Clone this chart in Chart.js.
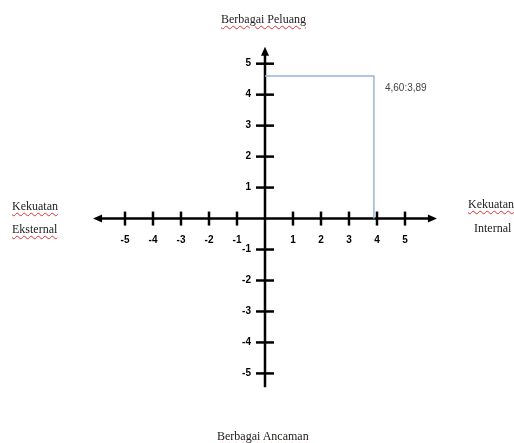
<!DOCTYPE html>
<html>
<head>
<meta charset="utf-8">
<script src="https://cdn.jsdelivr.net/npm/chart.js@4"></script>
<style>
  html, body { margin: 0; padding: 0; background: #fff; overflow: hidden; }
  #wrap { position: relative; width: 514px; height: 443px; }
  canvas { position: absolute; left: 0; top: 0; }
  .lbl { position: absolute; font-family: "Liberation Serif", "Times New Roman", serif; font-size: 12px; color: #222; white-space: nowrap; line-height: 14px; }
  .sq { text-decoration: underline wavy #e03030; text-decoration-thickness: 1px; text-underline-offset: 2px; }
</style>
</head>
<body>
<div id="wrap">
  <canvas id="c" width="514" height="443"></canvas>
  <div class="lbl sq" style="left:221px; top:12px;">Berbagai Peluang</div>
  <div class="lbl sq" style="left:217px; top:429px;">Berbagai Ancaman</div>
  <div class="lbl sq" style="left:12px; top:199px;">Kekuatan</div>
  <div class="lbl sq" style="left:12px; top:222px;">Eksternal</div>
  <div class="lbl sq" style="left:468px; top:197px;">Kekuatan</div>
  <div class="lbl" style="left:474px; top:221px;">Internal</div>
</div>
<script>
// ---- data ----
const xTickValues = [-5, -4, -3, -2, -1, 1, 2, 3, 4, 5];
const xTickLabels = ["-5", "-4", "-3", "-2", "-1", "1", "2", "3", "4", "5"];
const yTickValues = [5, 4, 3, 2, 1, -1, -2, -3, -4, -5];
const yTickLabels = ["5", "4", "3", "2", "1", "-1", "-2", "-3", "-4", "-5"];
const internalScore = 3.89;   // x (Kekuatan Internal)
const externalScore = 4.60;   // y (Berbagai Peluang)
const pointLabel = "4,60:3,89";

const guidePoints = [
  { x: 0, y: externalScore },
  { x: internalScore, y: externalScore },
  { x: internalScore, y: 0 }
];

const axesPlugin = {
  id: 'crossAxes',
  beforeDatasetsDraw(chart) {
    const { ctx, scales: { x, y } } = chart;
    const x0 = x.getPixelForValue(0), y0 = y.getPixelForValue(0);
    ctx.save();
    ctx.strokeStyle = '#000';
    ctx.fillStyle = '#000';
    ctx.lineWidth = 2.5;
    // horizontal axis
    const xl = x.getPixelForValue(-6.14), xr = x.getPixelForValue(6.14);
    ctx.beginPath(); ctx.moveTo(xl + 6, y0); ctx.lineTo(xr - 6, y0); ctx.stroke();
    // vertical axis
    const yt = y.getPixelForValue(5.55), yb = y.getPixelForValue(-5.45);
    ctx.beginPath(); ctx.moveTo(x0, yt + 6); ctx.lineTo(x0, yb); ctx.stroke();
    // arrow heads
    ctx.beginPath(); ctx.moveTo(xl, y0); ctx.lineTo(xl + 9, y0 - 4); ctx.lineTo(xl + 9, y0 + 4); ctx.closePath(); ctx.fill();
    ctx.beginPath(); ctx.moveTo(xr, y0); ctx.lineTo(xr - 9, y0 - 4); ctx.lineTo(xr - 9, y0 + 4); ctx.closePath(); ctx.fill();
    ctx.beginPath(); ctx.moveTo(x0, yt); ctx.lineTo(x0 - 4, yt + 9); ctx.lineTo(x0 + 4, yt + 9); ctx.closePath(); ctx.fill();
    // ticks
    ctx.font = 'bold 10px "Liberation Sans", Arial, sans-serif';
    ctx.textAlign = 'center'; ctx.textBaseline = 'middle';
    xTickValues.forEach((v, i) => {
      const px = x.getPixelForValue(v);
      ctx.beginPath(); ctx.moveTo(px, y0 - 7); ctx.lineTo(px, y0 + 7); ctx.stroke();
      ctx.fillText(xTickLabels[i], px, y0 + 22);
    });
    ctx.textAlign = 'right';
    yTickValues.forEach((v, i) => {
      const py = y.getPixelForValue(v);
      ctx.beginPath(); ctx.moveTo(x0 - 9, py); ctx.lineTo(x0 + 9, py); ctx.stroke();
      ctx.fillText(yTickLabels[i], x0 - 14, py);
    });
    ctx.restore();
  },
  afterDatasetsDraw(chart) {
    const { ctx, scales: { x, y } } = chart;
    const px = x.getPixelForValue(internalScore), py = y.getPixelForValue(externalScore);
    ctx.save();
    ctx.fillStyle = '#444';
    ctx.font = '10px "Liberation Sans", Arial, sans-serif';
    ctx.textAlign = 'left'; ctx.textBaseline = 'middle';
    ctx.fillText(pointLabel, px + 11, py + 12);
    ctx.restore();
  }
};

new Chart(document.getElementById('c'), {
  type: 'scatter',
  data: {
    datasets: [{
      data: guidePoints,
      showLine: true,
      borderColor: '#9bb3de',
      borderWidth: 1.5,
      pointRadius: 0,
      fill: false
    }]
  },
  options: {
    responsive: false,
    devicePixelRatio: 1,
    animation: false,
    layout: { padding: { left: 83, right: 67, top: 42, bottom: 51 } },
    plugins: { legend: { display: false }, tooltip: { enabled: false } },
    scales: {
      x: { type: 'linear', min: -6.5, max: 6.5, display: false },
      y: { type: 'linear', min: -5.6, max: 5.7, display: false }
    }
  },
  plugins: [axesPlugin]
});
</script>
</body>
</html>
